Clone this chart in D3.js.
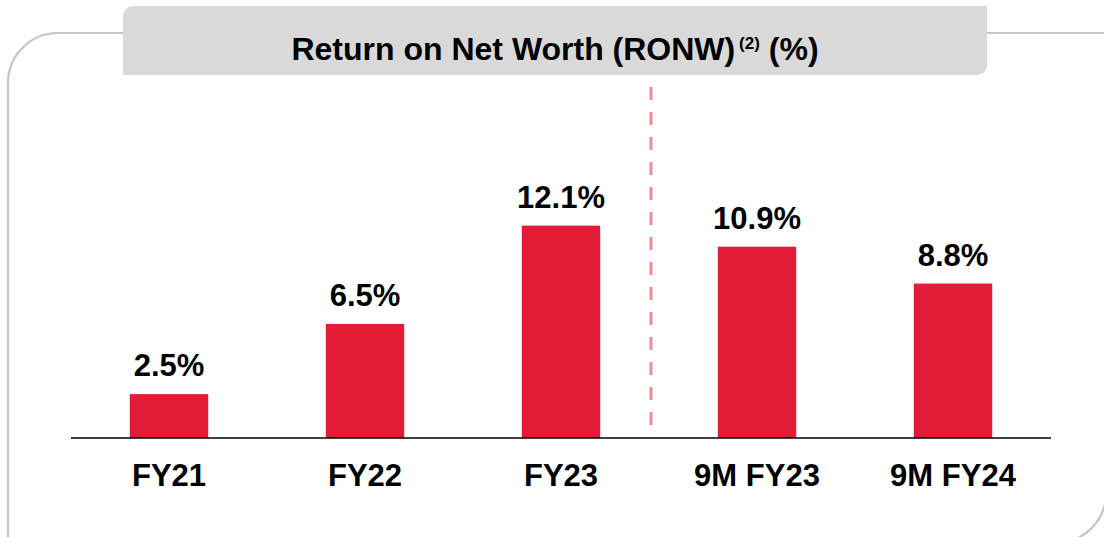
<!DOCTYPE html>
<html>
<head>
<meta charset="utf-8">
<script src="https://cdn.jsdelivr.net/npm/d3@7"></script>
<style>
  html, body { margin: 0; padding: 0; background: #fff; }
  svg { display: block; }
  text { font-family: "Liberation Sans", Arial, sans-serif; font-weight: bold; fill: #000; }
</style>
</head>
<body>
<div id="chart"></div>
<script>
const categories = ["FY21", "FY22", "FY23", "9M FY23", "9M FY24"];
const values = [2.5, 6.5, 12.1, 10.9, 8.8];
const valueLabels = ["2.5%", "6.5%", "12.1%", "10.9%", "8.8%"];
const titleMain = "Return on Net Worth (RONW)";
const titleSup = "(2)";
const titleEnd = " (%)";

const W = 1104, H = 537;
const svg = d3.select("#chart").append("svg").attr("width", W).attr("height", H);

// frame: rounded top-left and bottom-right corners
const fx0 = 8, fy0 = 33, fx1 = 1106, fy1 = 543, r = 50;
svg.append("path")
  .attr("d", `M${fx0},${H + 10} L${fx0},${fy0 + r} A${r},${r} 0 0 1 ${fx0 + r},${fy0} L${fx1},${fy0} L${fx1},${fy1 - r} A${r},${r} 0 0 1 ${fx1 - r},${fy1} L${fx0},${fy1}`)
  .attr("fill", "none").attr("stroke", "#c6c6c6").attr("stroke-width", 2.2);

// title box: rounded top-left and bottom-right
const bx0 = 123, by0 = 6, bx1 = 987, by1 = 75, br = 10;
svg.append("path")
  .attr("d", `M${bx0},${by0 + br} A${br},${br} 0 0 1 ${bx0 + br},${by0} L${bx1},${by0} L${bx1},${by1 - br} A${br},${br} 0 0 1 ${bx1 - br},${by1} L${bx0},${by1} Z`)
  .attr("fill", "#d9d9d9");

const title = svg.append("text").attr("x", 555).attr("y", 60)
  .attr("text-anchor", "middle").style("font-size", "32px");
title.append("tspan").text(titleMain);
title.append("tspan").text(" ").style("font-size", "14px");
title.append("tspan").text(titleSup).style("font-size", "17px").attr("dy", -11);
title.append("tspan").text(titleEnd).attr("dy", 11);

const x = d3.scaleBand().domain(categories).range([71, 1051]).paddingInner(0.6).paddingOuter(0.3);
const y = d3.scaleLinear().domain([0, 20]).range([438, 87]);

// divider dashed line
svg.append("line")
  .attr("x1", 651).attr("x2", 651).attr("y1", 87).attr("y2", 428)
  .attr("stroke", "#f28a9a").attr("stroke-width", 3).attr("stroke-dasharray", "13,12");

svg.selectAll("rect.bar").data(values).join("rect").attr("class", "bar")
  .attr("x", (d, i) => x(categories[i]))
  .attr("width", x.bandwidth())
  .attr("y", d => y(d))
  .attr("height", d => y(0) - y(d))
  .attr("fill", "#e31b36");

svg.selectAll("text.val").data(values).join("text").attr("class", "val")
  .attr("x", (d, i) => x(categories[i]) + x.bandwidth() / 2)
  .attr("y", d => y(d) - 18)
  .attr("text-anchor", "middle").style("font-size", "31px")
  .text((d, i) => valueLabels[i]);

// baseline axis
const axis = d3.axisBottom(x).tickSize(0).tickPadding(0);
const g = svg.append("g").attr("transform", `translate(0,${y(0)})`).call(axis);
g.select(".domain").attr("stroke", "#000").attr("stroke-width", 1.5).attr("d", "M71,0H1051");
g.selectAll(".tick text")
  .attr("y", 48).attr("dy", null)
  .style("font-size", "31px").style("font-family", "'Liberation Sans', Arial, sans-serif")
  .style("font-weight", "bold").attr("fill", "#000");
</script>
</body>
</html>
